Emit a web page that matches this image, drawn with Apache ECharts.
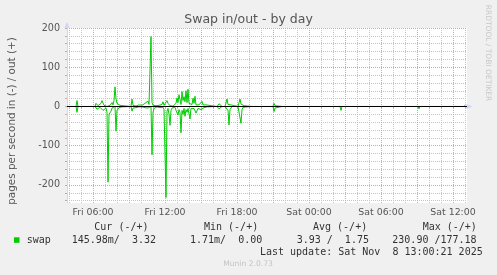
<!DOCTYPE html>
<html><head><meta charset="utf-8">
<script src="https://cdn.jsdelivr.net/npm/echarts@6/dist/echarts.min.js"></script>
<style>html,body{margin:0;padding:0;background:#F0F0F0;}#c{width:497px;height:275px;}</style>
</head><body><div id="c"></div>
<script>
// Sample times: minutes since Fri 00:00 (Fri 7 Nov 2025), 5-minute samples
const sampleMinutes = [
  230,275,280,285,
  370,375,380,385,390,395,400,405,410,415,420,425,430,435,440,445,450,455,460,465,470,475,480,485,490,495,500,505,510,515,
  550,555,560,565,570,575,580,585,590,595,
  600,605,610,615,620,625,630,635,640,645,
  650,655,660,665,670,675,680,685,690,695,
  700,705,710,715,720,725,730,735,740,745,
  750,755,760,765,770,775,780,785,790,795,
  800,805,810,815,820,825,830,835,840,845,
  850,855,860,865,870,875,880,885,890,895,
  900,905,910,915,920,925,930,935,
  980,985,990,995,1000,1005,
  1020,1025,1030,1035,1040,1045,1050,1055,
  1085,1090,1095,1100,1105,1110,1115,1120,
  1155,1160,1165,
  1260,1265,1270,1275,
  1305,1310,1315,
  1440,1445,1450,
  1485,1490,1495,
  1595,1600,1605,
  1800,1805,1810,
  1875,1880,1885,
  1985,1990,1995,
  2115,2120,2125,
  2215,2220
];
// pages per second swapped out (+)
const swapOut = [
  0,0,15,0,
  0,8,12,2,0,4,8,15,10,3,0,5,0,0,0,3,5,10,4,15,50,20,8,4,6,3,2,4,2,0,
  0,19,3,2,4,1,3,2,4,3,
  5,3,6,4,8,5,10,14,5,8,
  178,10,3,2,4,2,3,1,3,2,
  4,5,12,3,2,6,15,8,4,2,
  5,3,1,0,3,8,22,10,30,18,
  5,38,15,25,12,40,10,44,8,3,
  10,5,21,8,26,4,3,2,4,2,
  5,13,4,2,3,4,2,0,
  0,5,7,3,6,0,
  0,5,19,5,2,3,4,0,
  0,5,19,6,4,3,2,0,
  0,3,0,
  0,8,2,0,
  0,3,0,
  0,1,0,
  0,1,0,
  0,2,0,
  0,2,0,
  0,1,0,
  0,1,0,
  0,2,0,
  0,3.32
];
// pages per second swapped in (-), drawn below zero
const swapIn = [
  0,0,15,0,
  0,5,7,3,8,2,0,4,10,8,10,4,15,193,20,15,12,4,2,8,0,63,10,8,3,5,2,1,3,0,
  0,12,4,2,1,3,2,4,1,2,
  3,1,2,4,3,2,5,4,8,3,
  0,123,15,5,2,3,1,4,2,3,
  1,3,2,8,10,232,12,5,20,48,
  10,4,2,0,2,10,5,22,8,15,
  67,10,20,5,25,8,15,5,10,32,
  5,10,3,5,4,17,13,5,2,3,
  8,13,5,3,2,4,1,0,
  0,3,6,5,7,0,
  0,3,5,10,47,8,3,0,
  0,4,3,43,8,2,4,0,
  0,2,0,
  0,13,4,0,
  0,1,0,
  0,1,0,
  0,2,0,
  0,10,0,
  0,1,0,
  0,2,0,
  0,6,0,
  0,1,0,
  0,0.146
];
const xTickMinutes = [360,720,1080,1440,1800,2160];
const xTickLabels = ['Fri 06:00','Fri 12:00','Fri 18:00','Sat 00:00','Sat 06:00','Sat 12:00'];
const yTickValues = [-200,-100,0,100,200];
const legendHeaders = ['Cur (-/+)','Min (-/+)','Avg (-/+)','Max (-/+)'];
const legendValues = ['145.98m/  3.32','1.71m/  0.00','3.93 /  1.75','230.90 /177.18'];
const seriesName = 'swap';
const titleText = 'Swap in/out - by day';
const yName = 'pages per second in (-) / out (+)';
const lastUpdate = 'Last update: Sat Nov  8 13:00:21 2025';
const footer = 'Munin 2.0.73';
const sideText = 'RRDTOOL / TOBI OETIKER';

const X_MIN = 230, X_MAX = 2230, Y_MIN = -246, Y_MAX = 200;
// grid positions: hourly / 3-hourly vertical, every 20 / every 100 horizontal
const minorX = []; for (let m = 240; m <= 2220; m += 60) if (m % 180 !== 0) minorX.push(m);
const majorX = []; for (let m = 360; m <= 2220; m += 180) majorX.push(m);
const minorY = []; for (let v = -240; v <= 200; v += 20) if (v % 100 !== 0) minorY.push(v);
const majorY = yTickValues.filter(v => v !== 0);
const allX = minorX.concat(majorX).sort((a, b) => a - b);
const allY = minorY.concat(yTickValues).sort((a, b) => a - b);

const axisColor = '#CFD6F8';
const gridGrey = '#C4C4C4';
const gridRed = '#EE9A9A';
const green = '#00CC00';
const fontColor = '#555555';

const chart = echarts.init(document.getElementById('c'), null, {renderer: 'canvas', width: 497, height: 275});

const legendTexts = [];
const hdrX = [94.3, 204, 313, 422.7];
const valX = [71.7, 190, 296.7, 392.3];
legendHeaders.forEach((t, i) => legendTexts.push({type: 'text', x: hdrX[i], y: 227.5, silent: true,
  style: {text: t, font: '10px "DejaVu Sans Mono"', fill: '#333', align: 'left', verticalAlign: 'middle'}}));
legendValues.forEach((t, i) => legendTexts.push({type: 'text', x: valX[i], y: 240, silent: true,
  style: {text: t, font: '10px "DejaVu Sans Mono"', fill: '#333', align: 'left', verticalAlign: 'middle'}}));

function gridSeries(name, xs, ys, color, z) {
  return {name: name, type: 'line', xAxisIndex: 0, yAxisIndex: 0, z: z, silent: true,
    data: [[X_MIN, null]], showSymbol: false, symbol: 'none', lineStyle: {width: 0},
    markLine: {silent: true, animation: false, symbol: ['none', 'none'], label: {show: false}, z: z,
      emphasis: {disabled: true},
      lineStyle: {color: color, width: 1, type: [1, 1]},
      data: xs.map(v => ({xAxis: v})).concat(ys.map(v => ({yAxis: v})))}};
}

const option = {
  animation: false,
  backgroundColor: '#F0F0F0',
  grid: {left: 67, right: 30, top: 28, bottom: 72, show: true, backgroundColor: '#FFFFFF', borderWidth: 0, containLabel: false, outerBoundsMode: 'none'},
  xAxis: [{type: 'value', min: X_MIN, max: X_MAX, position: 'bottom', z: 3,
     axisLine: {show: true, lineStyle: {color: axisColor, width: 1}, symbol: ['none', 'triangle'], symbolSize: [5, 6], symbolOffset: [0, 2.5]},
     axisTick: {show: true, customValues: allX, length: 2, lineStyle: {color: '#C8A8A8'}},
     splitLine: {show: false},
     axisLabel: {show: true, customValues: xTickMinutes, formatter: v => xTickLabels[xTickMinutes.indexOf(v)] || '',
       fontFamily: 'DejaVu Sans', fontSize: 9.4, color: fontColor, margin: 5}}],
  yAxis: [{type: 'value', min: Y_MIN, max: Y_MAX, position: 'left', z: 3,
     axisLine: {show: true, lineStyle: {color: axisColor, width: 1}, symbol: ['none', 'triangle'], symbolSize: [5, 6], symbolOffset: [0, 3.3]},
     axisTick: {show: true, customValues: allY, length: 2, lineStyle: {color: '#C8A8A8'}},
     splitLine: {show: false},
     axisLabel: {show: true, customValues: yTickValues, fontFamily: 'DejaVu Sans', fontSize: 9.6, color: fontColor, margin: 7}}],
  series: [
    gridSeries('minorGrid', minorX, minorY, gridGrey, 1),
    gridSeries('majorGrid', majorX, majorY, gridRed, 2),
    {name: seriesName + '_in', type: 'line', xAxisIndex: 0, yAxisIndex: 0, z: 4,
     data: sampleMinutes.map((m, i) => [m, -swapIn[i]]),
     showSymbol: false, symbol: 'none', lineStyle: {color: green, width: 1}, itemStyle: {color: green}, silent: true},
    {name: seriesName + '_out', type: 'line', xAxisIndex: 0, yAxisIndex: 0, z: 4,
     data: sampleMinutes.map((m, i) => [m, swapOut[i]]),
     showSymbol: false, symbol: 'none', lineStyle: {color: green, width: 1}, itemStyle: {color: green}, silent: true,
     markLine: {silent: true, symbol: ['none', 'none'], label: {show: false}, z: 6,
       lineStyle: {color: '#000000', width: 1, type: 'solid'}, data: [{yAxis: 0}]}}
  ],
  graphic: [
    {type: 'text', x: 248.5, y: 20, silent: true,
     style: {text: titleText, font: '12.5px "DejaVu Sans"', fill: fontColor, align: 'center', verticalAlign: 'middle'}},
    {type: 'text', x: 12.5, y: 121, rotation: Math.PI / 2, silent: true,
     style: {text: yName, font: '10.4px "DejaVu Sans"', fill: fontColor, align: 'center', verticalAlign: 'middle'}},
    {type: 'text', x: 487.5, y: 53, rotation: -Math.PI / 2, silent: true,
     style: {text: sideText, font: '7.5px "DejaVu Sans"', fill: '#C8C8C8', align: 'center', verticalAlign: 'middle'}},
    {type: 'rect', shape: {x: 14, y: 237.3, width: 5.5, height: 5.5}, style: {fill: green}, silent: true},
    {type: 'text', x: 26.7, y: 240, silent: true,
     style: {text: seriesName, font: '10px "DejaVu Sans Mono"', fill: '#333', align: 'left', verticalAlign: 'middle'}},
    ...legendTexts,
    {type: 'text', x: 482.7, y: 252.5, silent: true,
     style: {text: lastUpdate, font: '10px "DejaVu Sans Mono"', fill: '#333', align: 'right', verticalAlign: 'middle'}},
    {type: 'text', x: 248, y: 264, silent: true,
     style: {text: footer, font: '7.6px "DejaVu Sans"', fill: '#C4C4C4', align: 'center', verticalAlign: 'middle'}}
  ]
};
chart.setOption(option);
</script>
</body></html>
